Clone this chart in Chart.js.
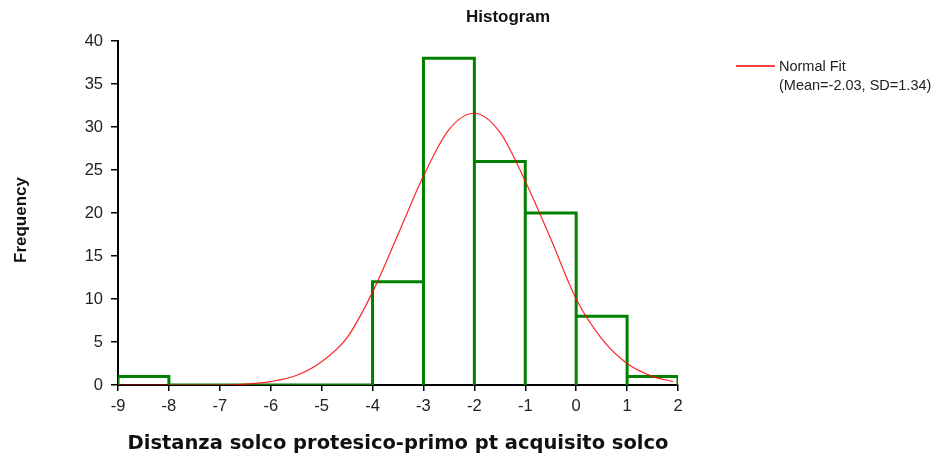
<!DOCTYPE html>
<html>
<head>
<meta charset="utf-8">
<script src="https://cdn.jsdelivr.net/npm/chart.js@4"></script>
<style>
  html, body { margin: 0; padding: 0; background: #fff; }
  #wrap { width: 942px; height: 457px; }
</style>
</head>
<body>
<div id="wrap"><canvas id="chart" width="942" height="457"></canvas></div>
<script>
// histogram bins (left edges, width 1) and counts
const binStarts = [-9, -8, -7, -6, -5, -4, -3, -2, -1, 0, 1];
const binCounts = [1, 0, 0, 0, 0, 12, 38, 26, 20, 8, 1];
const binWidth = 1;

// normal fit curve
const fitX = [-9, -8.5, -8, -7.5, -7, -6.5, -6, -5.5, -5, -4.5, -4, -3.5, -3, -2.5, -2, -1.5, -1, -0.5, 0, 0.5, 1, 1.5, 1.9];
const fitY = [0, 0, 0, 0, 0, 0.1, 0.4, 1.1, 2.7, 5.5, 10.8, 17.5, 24.3, 29.7, 31.6, 29.4, 23.7, 17, 10, 5.4, 2.5, 1, 0.4];

const xTicks = [-9, -8, -7, -6, -5, -4, -3, -2, -1, 0, 1, 2];
const yTicks = [0, 5, 10, 15, 20, 25, 30, 35, 40];

// outline of the bars: up, across, down for each bin
const histOutline = [];
binStarts.forEach((l, i) => {
    const r = l + binWidth;
    histOutline.push({x: l, y: 0}, {x: l, y: binCounts[i]}, {x: r, y: binCounts[i]}, {x: r, y: 0});
});

const fitPoints = fitX.map((x, i) => ({x: x, y: fitY[i]}));

const FONT = '"Liberation Sans", Arial, sans-serif';

// title, y axis title and legend text
const overlay = {
    id: 'overlay',
    afterDraw(chart) {
        const ctx = chart.ctx;
        ctx.save();
        ctx.fillStyle = '#111';
        ctx.font = 'bold 17px ' + FONT;
        ctx.textAlign = 'center';
        ctx.textBaseline = 'middle';
        ctx.fillText('Histogram', 508, 17);

        ctx.save();
        ctx.translate(21, 220);
        ctx.rotate(-Math.PI / 2);
        ctx.font = 'bold 17px ' + FONT;
        ctx.fillText('Frequency', 0, 0);
        ctx.restore();

        ctx.strokeStyle = 'rgb(255,0,0)';
        ctx.lineWidth = 1.5;
        ctx.beginPath();
        ctx.moveTo(736, 66);
        ctx.lineTo(775, 66);
        ctx.stroke();

        ctx.font = '14.5px ' + FONT;
        ctx.textAlign = 'left';
        ctx.fillStyle = '#222';
        ctx.fillText('Normal Fit', 779, 67);
        ctx.fillText('(Mean=-2.03, SD=1.34)', 779, 86);
        ctx.restore();
    }
};

new Chart(document.getElementById('chart').getContext('2d'), {
    type: 'line',
    data: {
        datasets: [{
            label: 'Histogram',
            data: histOutline,
            borderColor: 'rgb(0,128,0)',
            borderWidth: 3,
            pointRadius: 0,
            tension: 0,
            fill: false,
            borderJoinStyle: 'miter',
            order: 2
        }, {
            label: 'Normal Fit',
            data: fitPoints,
            borderColor: 'rgba(255,0,0,0.85)',
            borderWidth: 1.2,
            pointRadius: 0,
            cubicInterpolationMode: 'monotone',
            fill: false,
            order: 1
        }]
    },
    options: {
        responsive: false,
        animation: false,
        layout: { padding: { left: 0, top: 41, right: 264, bottom: 0 } },
        plugins: {
            legend: { display: false },
            title: { display: false },
            tooltip: { enabled: false }
        },
        scales: {
            x: {
                type: 'linear',
                min: -9,
                max: 2,
                afterBuildTicks: s => { s.ticks = xTicks.map(v => ({value: v})); },
                afterFit: s => { s.height = 72; },
                grid: { drawOnChartArea: false, drawTicks: true, tickLength: 6, color: '#000', lineWidth: 1.5 },
                border: { display: true, color: '#000', width: 2 },
                ticks: { color: '#222', font: { family: FONT, size: 16.5 }, padding: 6, maxRotation: 0 },
                title: {
                    display: true,
                    text: 'Distanza solco protesico-primo pt acquisito solco',
                    color: '#111',
                    font: { family: '"DejaVu Sans", Verdana, sans-serif', size: 19.5, weight: 'bold' },
                    padding: { top: 0, bottom: 1.5 }
                }
            },
            y: {
                min: 0,
                max: 40,
                afterBuildTicks: s => { s.ticks = yTicks.map(v => ({value: v})); },
                afterFit: s => { s.width = 118; },
                grid: { drawOnChartArea: false, drawTicks: true, tickLength: 7, color: '#000', lineWidth: 1.5 },
                border: { display: true, color: '#000', width: 2 },
                ticks: { color: '#222', font: { family: FONT, size: 16.5 }, padding: 8 }
            }
        }
    },
    plugins: [overlay]
});
</script>
</body>
</html>
